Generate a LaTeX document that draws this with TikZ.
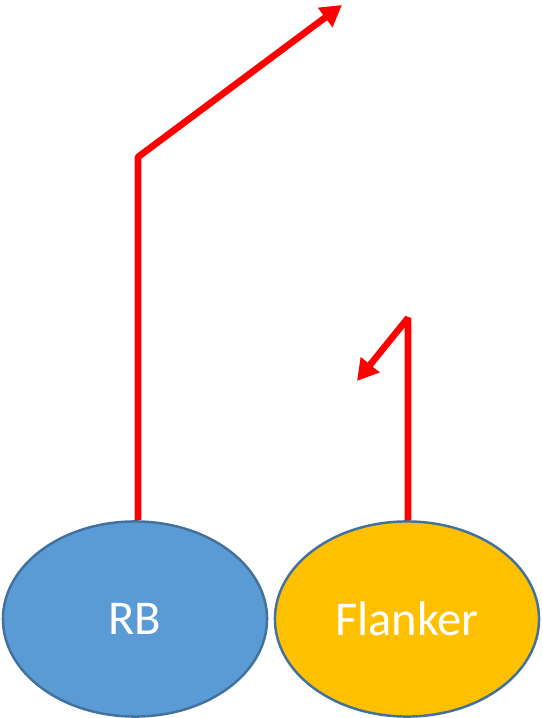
\documentclass[tikz,border=0pt]{standalone}
\usepackage{fontspec}
\setmainfont{Carlito}
\usetikzlibrary{shapes.geometric,arrows.meta}

\definecolor{rbblue}{HTML}{5B9BD5}
\definecolor{flankergold}{HTML}{FFC000}
\definecolor{edgeblue}{HTML}{41719C}
\definecolor{routered}{HTML}{FF0000}

\tikzset{
  player/.style={ellipse, draw=edgeblue, line width=0.7pt, text=white,
    minimum width=2.64cm, minimum height=1.95cm, inner sep=0pt,
    font=\fontsize{13.8}{16}\selectfont},
  route/.style={routered, line width=1.9pt, line join=bevel,
    -{Triangle[length=0.21cm, width=0.23cm]}}
}

\begin{document}
\begin{tikzpicture}[x=0.01cm, y=-0.01cm]
    % Frame of the picture
    \useasboundingbox (0,0) rectangle (543,718);

    % Players
    \node[player, fill=rbblue] (rb) at (135,619) {RB};
    \node[player, fill=flankergold] (flanker) at (407,619) {Flanker};

    % Route of the RB: straight up, then out to the right
    \coordinate (rbturn) at (138,157);
    \coordinate (rbend) at (342,5);
    \draw[route] (rbturn |- rb.north) -- (rbturn) -- (rbend);

    % Route of the flanker: up, then back inside
    \coordinate (flturn) at (408,318);
    \coordinate (flend) at (357,381);
    \draw[route] (flturn |- flanker.north) -- (flturn) -- (flend);
\end{tikzpicture}
\end{document}
